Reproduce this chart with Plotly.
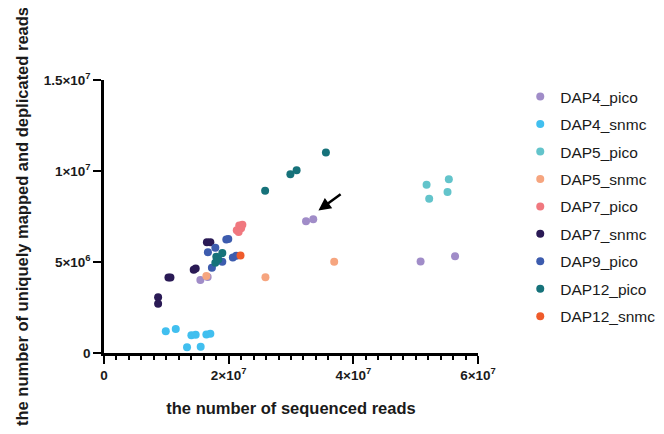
import plotly.graph_objects as go

# Data (x: sequenced reads, y: uniquely mapped & deduplicated reads), in millions
series_names = ["DAP4_pico", "DAP4_snmc", "DAP5_pico", "DAP5_snmc", "DAP7_pico",
                "DAP7_snmc", "DAP9_pico", "DAP12_pico", "DAP12_snmc"]
series_colors = ["#A08CC8", "#41BFEF", "#63C4CB", "#F6A57F", "#F0787F",
                 "#2A1A55", "#3D5CAE", "#16727A", "#EF5B2B"]

dap4_pico_x = [15.46, 16.63, 32.41, 33.57, 50.79, 56.32]
dap4_pico_y = [4.01, 4.17, 7.24, 7.35, 5.03, 5.32]

dap4_snmc_x = [9.91, 11.51, 13.32, 14.02, 14.71, 15.51, 16.42, 17.06]
dap4_snmc_y = [1.19, 1.32, 0.31, 0.97, 1.00, 0.35, 1.02, 1.06]

dap5_pico_x = [51.75, 55.32, 52.17, 55.11]
dap5_pico_y = [9.24, 9.55, 8.47, 8.85]

dap5_snmc_x = [16.42, 25.90, 36.93]
dap5_snmc_y = [4.23, 4.16, 5.01]

dap7_pico_x = [21.3, 21.7, 22.0, 22.2, 21.6]
dap7_pico_y = [6.75, 7.00, 6.85, 7.05, 6.65]

dap7_snmc_x = [8.68, 8.68, 10.34, 10.66, 14.39, 14.71, 16.51, 17.06]
dap7_snmc_y = [3.07, 2.71, 4.15, 4.15, 4.57, 4.64, 6.09, 6.09]

dap9_pico_x = [16.67, 17.86, 19.62, 19.94, 17.31, 18.98, 20.67, 21.22]
dap9_pico_y = [5.54, 5.78, 6.23, 6.27, 4.68, 5.01, 5.25, 5.34]

dap12_pico_x = [18.02, 18.98, 17.86, 18.34, 25.85, 29.90, 30.90, 35.60]
dap12_pico_y = [5.29, 5.49, 4.96, 5.14, 8.91, 9.82, 10.04, 11.01]

dap12_snmc_x = [21.90]
dap12_snmc_y = [5.36]

series_x = [dap4_pico_x, dap4_snmc_x, dap5_pico_x, dap5_snmc_x, dap7_pico_x,
            dap7_snmc_x, dap9_pico_x, dap12_pico_x, dap12_snmc_x]
series_y = [dap4_pico_y, dap4_snmc_y, dap5_pico_y, dap5_snmc_y, dap7_pico_y,
            dap7_snmc_y, dap9_pico_y, dap12_pico_y, dap12_snmc_y]

# Arrow pointing at the highlighted DAP4_pico points (millions)
arrow_head = [34.4, 7.83]
arrow_tail = [38.2, 8.78]

x_tick_vals = [0, 2e7, 4e7, 6e7]
x_tick_text = ["0", "2×10<sup>7</sup>", "4×10<sup>7</sup>", "6×10<sup>7</sup>"]
y_tick_vals = [0, 5e6, 1e7, 1.5e7]
y_tick_text = ["0", "5×10<sup>6</sup>", "1×10<sup>7</sup>", "1.5×10<sup>7</sup>"]

M = 1e6
FONT = "Liberation Sans, Arial, sans-serif"

fig = go.Figure()
for name, color, xs, ys in zip(series_names, series_colors, series_x, series_y):
    fig.add_trace(go.Scatter(
        x=[v * M for v in xs], y=[v * M for v in ys],
        mode="markers", name=name, legendgroup=name,
        marker=dict(color=color, size=8, line=dict(width=0)),
    ))

fig.add_annotation(
    x=arrow_head[0] * M, y=arrow_head[1] * M,
    ax=arrow_tail[0] * M, ay=arrow_tail[1] * M,
    xref="x", yref="y", axref="x", ayref="y",
    text="", showarrow=True, arrowhead=2, arrowsize=1, arrowwidth=2.5,
    arrowcolor="black",
)

axis_font = dict(family=FONT, size=13.5, color="#1a1a1a", weight="bold")
title_font = dict(family=FONT, size=16.5, color="#1a1a1a", weight="bold")

fig.update_layout(
    width=664, height=434,
    margin=dict(l=96, r=193, t=72, b=89),
    plot_bgcolor="white", paper_bgcolor="white",
    showlegend=True,
    legend=dict(
        x=1.11, y=1.0, xanchor="left", yanchor="top",
        font=dict(family=FONT, size=15.5, color="#1a1a1a"),
        tracegroupgap=4.3, itemsizing="trace",
    ),
    xaxis=dict(
        range=[0, 6e7], showgrid=False, zeroline=False, automargin=False,
        showline=True, linecolor="black", linewidth=2.5,
        tickmode="array", tickvals=x_tick_vals, ticktext=x_tick_text,
        ticks="outside", ticklen=8, tickwidth=2, tickcolor="black",
        minor=dict(dtick=2e6, ticks="outside", ticklen=4, tickwidth=2, tickcolor="black", showgrid=False),
        tickfont=axis_font,
        title=dict(text="the number of sequenced reads", font=title_font, standoff=21),
    ),
    yaxis=dict(
        range=[0, 1.5e7], showgrid=False, zeroline=False, automargin=False,
        showline=True, linecolor="black", linewidth=2.5,
        tickmode="array", tickvals=y_tick_vals, ticktext=y_tick_text,
        ticks="outside", ticklen=8, tickwidth=2, tickcolor="black",
        tickfont=axis_font,
        title=dict(text="the number of uniquely mapped and deplicated reads", font=title_font, standoff=11),
    ),
)

fig.write_html("out.html")
